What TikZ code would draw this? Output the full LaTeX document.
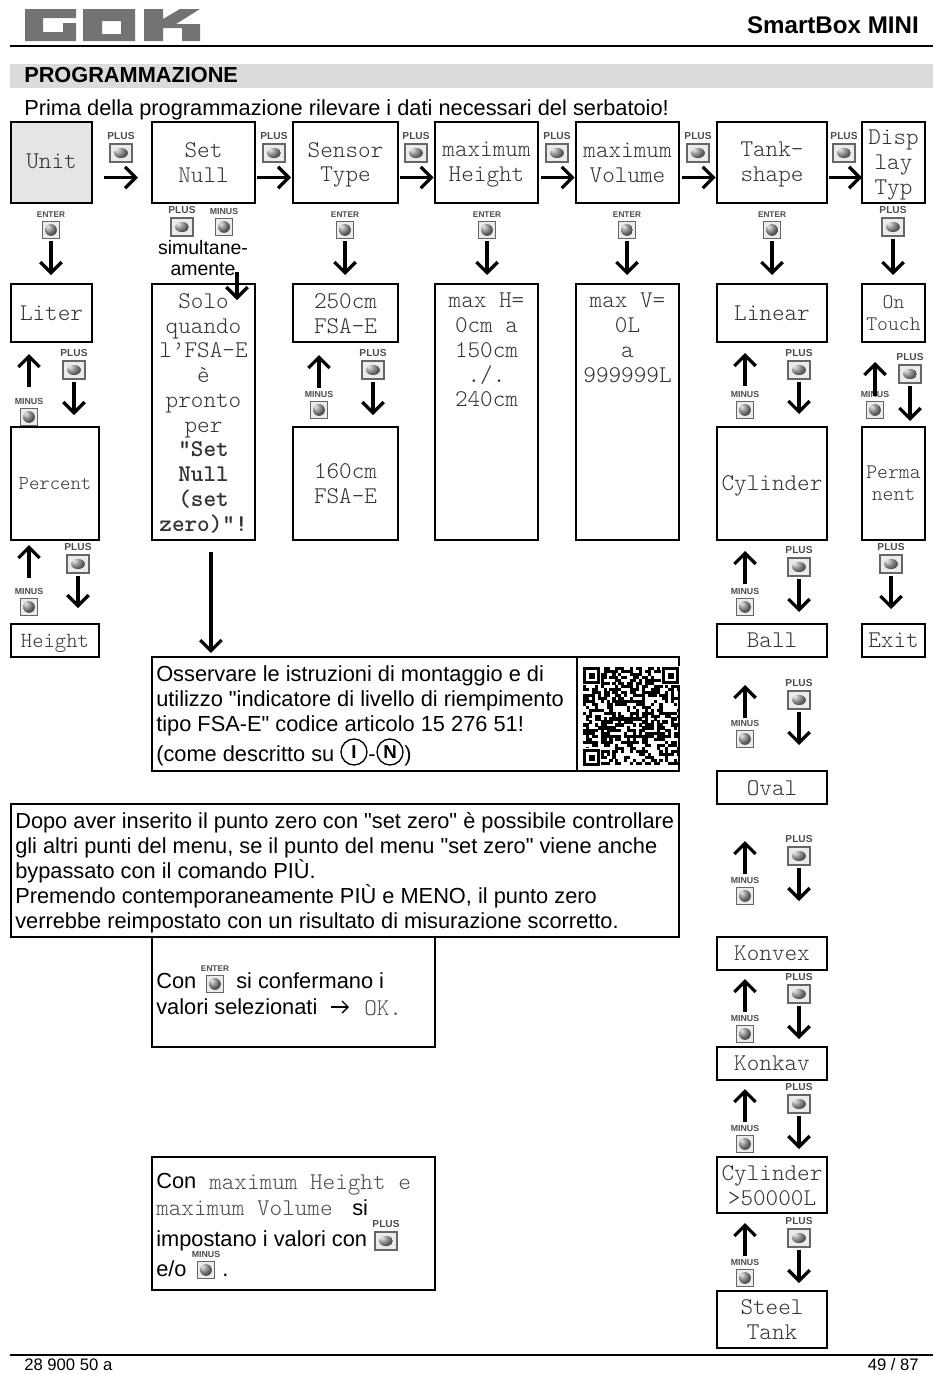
\documentclass[tikz,border=0pt]{standalone}
\usepackage{fontspec}
\setmainfont{Liberation Sans}[Ligatures=TeXOff]
\setmonofont{Latin Modern Mono Light}
\usetikzlibrary{arrows.meta}
\newcommand{\lcdfont}{\ttfamily\fontsize{18}{18.55}\selectfont}
\newcommand{\lcdstrut}{\rule[-3pt]{0pt}{18pt}}
\tikzset{
	boxline/.style={draw,line width=1.1pt,inner sep=0pt,outer sep=0pt},
	lcd/.style={inner sep=0pt,align=center,font=\lcdfont,text=black!80,execute at begin node=\lcdstrut,execute at end node=\lcdstrut},
	lcdsmall/.style={font=\ttfamily\fontsize{15.5}{16.6}\selectfont,yshift=-1.5pt},
	lcdtiny/.style={font=\ttfamily\fontsize{14.8}{16}\selectfont,yshift=1.2pt},
	lcdmid/.style={font=\ttfamily\fontsize{16.2}{17}\selectfont,yshift=.7pt},
	lcdone/.style={yshift=.6pt},
	lcdtwo/.style={yshift=-1.7pt},
	lcdplain/.style={},
	lcdunit/.style={yshift=1.2pt},
	txt/.style={anchor=west,inner sep=0pt,font=\fontsize{16.35}{18}\selectfont,text height=14pt,text depth=2.4pt},
	flow/.style={-{Straight Barb[length=8pt,width=16pt,line width=2.4pt]},line width=2.4pt},
	btnlab/.style={inner sep=0pt,text=black!70,text height=5pt,text depth=0pt,yshift=2.4pt},
	btn/.style={draw=black!60,line width=.9pt,fill=black!8,inner sep=0pt},
	btnplus/.style={btn,minimum width=16.5pt,minimum height=13.5pt,
		label={[btnlab,font=\bfseries\fontsize{7.6}{8}\selectfont]above:PLUS},
		path picture={\shade[ball color=black!50] (path picture bounding box.center) ellipse (5.2pt and 3.8pt);}},
	btnminus/.style={btn,minimum width=13pt,minimum height=13pt,
		label={[btnlab,font=\bfseries\fontsize{6.6}{8}\selectfont]above:MINUS},
		path picture={\shade[ball color=black!50] (path picture bounding box.center) circle (4.4pt);}},
	btnenter/.style={btn,minimum width=13pt,minimum height=13pt,
		label={[btnlab,font=\bfseries\fontsize{6.2}{8}\selectfont]above:ENTER},
		path picture={\shade[ball color=black!50] (path picture bounding box.center) circle (4.4pt);}},
}
\begin{document}
\begin{tikzpicture}[x=.75pt,y=-.75pt]
	\useasboundingbox (0,0) rectangle (950,1374);
	% logo
	\fill[black!55,even odd rule] (25,9)--(76,9)--(76,18)--(43,18)--(43,32)--(63,32)--(63,23)--(76,23)--(76,41)--(25,41)--cycle
		(83,9)--(135,9)--(135,41)--(83,41)--cycle (102,21)--(121,21)--(121,34)--(102,34)--cycle
		(144,9)--(163,9)--(163,19)--(180,9)--(200,9)--(176,24)--(200,24)--(200,41)--(182,41)--(182,28)--(163,28)--(163,41)--(144,41)--cycle;
	\coordinate (headl) at (10,46);
	\coordinate (headr) at (933,46);
	\coordinate (footl) at (10,1355);
	\coordinate (footr) at (933,1355);
	\draw[line width=1.1pt] (headl)--(headr);
	\draw[line width=1.1pt] (footl)--(footr);
	\fill[black!14] (10,64) rectangle (933,88);
	\node[anchor=east,inner sep=0pt,font=\bfseries\fontsize{18.1}{19}\selectfont] (product) at (919,25) {SmartBox MINI};
	\node[txt,font=\bfseries\fontsize{16.3}{18}\selectfont] (title) at (24,75) {PROGRAMMAZIONE};
	\node[txt] (prima) at (24,108) {Prima della programmazione rilevare i dati necessari del serbatoio!};
	\node[anchor=west,inner sep=0pt,font=\fontsize{12.5}{14}\selectfont] (docno) at (24,1365) {28 900 50 a};
	\node[anchor=east,inner sep=0pt,font=\fontsize{12.5}{14}\selectfont] (pageno) at (919,1365) {49 / 87};
	% frames
	\node[boxline,fill=black!10,minimum width=60.75pt,minimum height=60.75pt] (unit) at (51.5,162.5) {};
	\foreach \nm/\xa/\ya/\xb/\yb in {
		setnull/152/122/255/203,sensor/293/122/398/203,maxheight/435/122/538/203,maxvolume/576/122/679/203,
		tank/717/122/827/203,display/862/122/925/203,
		liter/11/284/92/342,solo/152/284/255/540,fsa/293/284/398/342,maxh/435/284/538/540,maxv/576/284/679/540,
		linear/717/284/827/342,ontouch/862/284/925/342,
		percent/11/427/99/540,fsb/293/427/398/540,cylinder/717/427/827/540,perma/862/427/925/540,
		height/11/624/99/657,ball/717/624/827/657,exit/862/624/925/657,oval/717/771/827/804,
		konvex/717/937/827/970,konkav/717/1047/827/1080,cylbig/717/1157/827/1213,steel/717/1291/827/1348,
		info/152/657/577/771,qrcell/577/657/679/771,warn/11/804/679/937,conok/152/937/435/1047,conmax/152/1157/435/1290}
		\node[boxline,minimum width={(\xb-\xa)*.75pt},minimum height={(\yb-\ya)*.75pt}] (\nm) at ({(\xa+\xb)/2},{(\ya+\yb)/2}) {};
	% display texts
	\foreach \nm/\sty/\txt in {
		unit/lcdunit/{Unit},
		setnull/lcdtwo/{Set\\Null},
		sensor/lcdtwo/{Sensor\\Type},
		maxheight/lcdtwo/{maximum\\Height},
		maxvolume/lcdtwo/{maximum\\Volume},
		tank/lcdtwo/{Tank-\\shape},
		display/lcdtwo/{Disp\\lay\\Typ},
		liter/lcdone/{Liter},
		solo/lcdtwo/{Solo\\quando\\l’FSA-E\\è\\pronto\\per\\\textbf{"Set}\\\textbf{Null}\\\textbf{(set}\\\textbf{zero)"!}},
		fsa/lcdtwo/{250cm\\FSA-E},
		linear/lcdone/{Linear},
		ontouch/lcdsmall/{On\\Touch},
		percent/lcdtiny/{Percent},
		fsb/lcdtwo/{160cm\\FSA-E},
		cylinder/lcdplain/{Cylinder},
		perma/lcdsmall/{Perma\\nent},
		height/lcdmid/{Height},
		ball/lcdone/{Ball},
		exit/lcdone/{Exit},
		oval/lcdplain/{Oval},
		konvex/lcdone/{Konvex},
		konkav/lcdone/{Konkav},
		cylbig/lcdtwo/{Cylinder\\>50000L},
		steel/lcdtwo/{Steel\\Tank}}
		\node[lcd,\sty] (\nm txt) at (\nm) {\txt};
	\node[anchor=north,align=center,inner sep=0pt,font=\lcdfont,text=black!80] (maxhtxt) at ([yshift=-6.7pt]maxh.north) {max H=\\0cm a\\150cm\\./.\\240cm};
	\node[anchor=north,align=center,inner sep=0pt,font=\lcdfont,text=black!80] (maxvtxt) at ([yshift=-6.7pt]maxv.north) {max V=\\0L\\a\\999999L};
	\node[align=center,inner sep=0pt,font=\fontsize{14.6}{15.8}\selectfont] (simul) at (203,258) {simultane-\\amente};
	% text lines
	\foreach \nm/\x/\y/\txt in {
		infoa/156/674/{Osservare le istruzioni di montaggio e di},
		infob/156/699/{utilizzo "indicatore di livello di riempimento},
		infoc/156/724/{tipo FSA-E" codice articolo 15 276 51!},
		infod/156/754/{(come descritto su},
		infoe/368/754/{-},
		infof/404/754/{)},
		warna/15/821/{Dopo aver inserito il punto zero con "set zero" è possibile controllare},
		warnb/15/846/{gli altri punti del menu, se il punto del menu "set zero" viene anche},
		warnc/15/871/{bypassato con il comando PIÙ.},
		warnd/15/896/{Premendo contemporaneamente PIÙ e MENO, il punto zero},
		warne/15/921/{verrebbe reimpostato con un risultato di misurazione scorretto.},
		oka/156/981/{Con},
		okb/236/981/{si confermano i},
		okc/156/1007/{valori selezionati},
		oke/364/1008/{\lcdfont\color{black!70}OK.},
		maxa/156/1181/{Con},
		maxb/209/1182/{\lcdfont\color{black!70}maximum Height e},
		maxc/156/1208/{\lcdfont\color{black!70}maximum Volume},
		maxd/352/1208/{si},
		maxe/156/1239/{impostano i valori con},
		maxf/156/1269/{e/o},
		maxg/222/1269/{.}}
		\node[txt] (\nm) at (\x,\y) {\txt};
	\coordinate (okfrom) at (331,1007);
	\coordinate (okto) at (349,1007);
	\draw[-{Straight Barb[length=4.5pt,width=9pt]},line width=1pt] (okfrom)--(okto);
	\node[draw,circle,line width=1pt,minimum size=19.5pt,inner sep=0pt,font=\bfseries\fontsize{14}{15}\selectfont] (circi) at (354,752) {I};
	\node[draw,circle,line width=1pt,minimum size=19.5pt,inner sep=0pt,font=\bfseries\fontsize{14}{15}\selectfont] (circn) at (390,752) {N};
	% qr code
	\pgfmathsetseed{4711}
	\foreach \i in {0,...,32}
		\foreach \j in {0,...,32}{
			\pgfmathparse{rnd>.5?1:0}
			\ifnum\pgfmathresult=1
				\fill ({583+\i*2.94},{667+\j*2.97}) rectangle +(3.1,3.1);
			\fi
		}
	\foreach \nm/\x/\y in {qra/583/667,qrb/662/667,qrc/583/749}{
		\fill[white] (\x-1,\y-1) rectangle +(19,19);
		\coordinate (\nm) at (\x,\y);
		\draw[line width=2.2pt] ([shift={(1.5,1.5)}]\nm) rectangle +(14,14);
		\fill ([shift={(5.5,5.5)}]\nm) rectangle +(6,6);
	}
	% buttons
	\foreach \nm/\x/\y/\sty in {
		pa/121/153/btnplus,pb/274/153/btnplus,pc/416/153/btnplus,pd/557/153/btnplus,pe/698/153/btnplus,pf/844/153/btnplus,
		ea/51/230/btnenter,ec/345/230/btnenter,ed/487/230/btnenter,ee/627/230/btnenter,ef/772/230/btnenter,
		sp/182/227/btnplus,sm/224/227/btnminus,pg/893/227/btnplus,
		da/74/370/btnplus,db/78/564/btnplus,dc/373/370/btnplus,dd/799/370/btnplus,de/910/374/btnplus,
		df/799/567/btnplus,dg/891/564/btnplus,dh/799/700/btnplus,di/799/856/btnplus,dj/799/994/btnplus,dk/799/1104/btnplus,dl/799/1238/btnplus,
		ua/29/417/btnminus,ub/29/607/btnminus,uc/319/410/btnminus,ud/745/410/btnminus,ue/875/410/btnminus,
		uf/745/607/btnminus,uh/745/739/btnminus,ui/745/896/btnminus,uj/745/1034/btnminus,uk/745/1144/btnminus,ul/745/1278/btnminus,
		ok/215/984/btnenter,mp/386/1241/btnplus,mm/206/1270/btnminus}
		\node[\sty] (\nm) at (\x,\y) {};
	% arrows
	\foreach \a/\b/\s/\e in {unit/setnull/9/10.5,setnull/sensor/1.5/1.5,sensor/maxheight/1.5/1,maxheight/maxvolume/2.2/1,maxvolume/tank/2.2/1,tank/display/1.5/0}
		\draw[flow,shorten <=\s pt,shorten >=\e pt] ([yshift=-11.25pt]\a.east) -- ([yshift=-11.25pt]\b.west);
	\foreach \b/\t/\e in {ea/liter/9,ec/fsa/9,ed/maxh/9,ee/maxv/9,ef/linear/9,pg/ontouch/9,
		da/percent/12,db/height/16,dc/fsb/12,dd/cylinder/13,de/perma/6,df/ball/12,dg/exit/15,dh/oval/26,di/konvex/36,dj/konkav/8,dk/cylbig/8,dl/steel/8}
		\draw[flow,shorten <=1.6pt,shorten >=\e*.75pt] (\b.south) -- (\b.south |- \t.north);
	\foreach \b/\t/\s/\e in {ua/liter/20.5/12,ub/percent/19.5/5,uc/fsa/12.5/13,ud/linear/14.5/11,ue/ontouch/4.5/20,
		uf/cylinder/13.5/11,uh/ball/11.5/28,ui/oval/12.5/37,uj/konvex/12.5/9,uk/konkav/12.5/9,ul/cylbig/12.5/10}
		\draw[flow,shorten <=\s*.75pt,shorten >=\e*.75pt] (\b.north) -- (\b.north |- \t.south);
	\coordinate (soloa) at (237,272);
	\coordinate (solob) at (237,300);
	\draw[flow] (soloa)--(solob);
	\draw[flow,shorten <=9pt,shorten >=3pt] ([xshift=5.6pt]solo.south) -- ([xshift=5.6pt]solo.south |- info.north);
\end{tikzpicture}
\end{document}
